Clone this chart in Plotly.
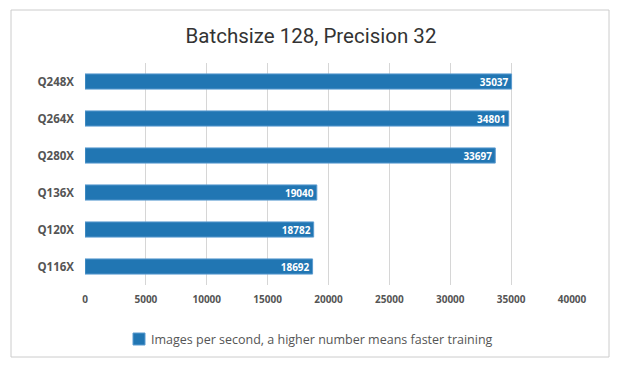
import plotly.graph_objects as go

categories = ["Q248X", "Q264X", "Q280X", "Q136X", "Q120X", "Q116X"]
values = [35037, 34801, 33697, 19040, 18782, 18692]
x_ticks = [0, 5000, 10000, 15000, 20000, 25000, 30000, 35000, 40000]
series_name = "Images per second, a higher number means faster training"
title = "Batchsize 128, Precision 32"

OFF = 8  # default page body margin
W, H = 620 - OFF, 369 - OFF
L, T = 85 - OFF, 63 - OFF
R = W - (572 - OFF)
B = H - (285 - OFF)
pw, ph = W - L - R, H - T - B

def px(x):
    return (x - OFF - L) / pw

def py(y):
    return 1 - (y - OFF - T) / ph

bar_color = "#2176b3"

fig = go.Figure()
fig.add_trace(go.Bar(
    x=values, y=categories, orientation="h", name=series_name,
    marker=dict(color=bar_color, line=dict(color="#5b9bd0", width=1)),
    text=[str(v) for v in values], textposition="inside", insidetextanchor="end",
    textfont=dict(family="Open Sans", size=10, color="white", weight="bold"),
    showlegend=False,
))

fig.update_layout(
    width=W, height=H,
    margin=dict(l=L, r=R, t=T, b=B),
    paper_bgcolor="white", plot_bgcolor="white",
    bargap=0.59,
    title=dict(text=title, x=(311 - OFF) / W, xref="container", xanchor="center",
               y=1 - (36 - OFF) / H, yanchor="middle",
               font=dict(family="Roboto", size=20.5, color="#333")),
    xaxis=dict(range=[0, 40000], tickvals=x_ticks, ticktext=[str(t) for t in x_ticks],
               showgrid=True, gridcolor="#d6d6d6", gridwidth=1, zeroline=False, showline=False,
               tickfont=dict(family="Open Sans", size=10, color="#555", weight="bold"),
               ticks="", ticklabelstandoff=7, fixedrange=True),
    yaxis=dict(categoryorder="array", categoryarray=categories, autorange="reversed",
               showgrid=False, zeroline=False, showline=False, ticks="",
               tickfont=dict(family="Open Sans", size=11.5, color="#555", weight="bold"),
               ticklabelstandoff=10),
    showlegend=False,
    shapes=[
        dict(type="rect", xref="paper", yref="paper",
             x0=px(11), x1=px(609), y0=py(357), y1=py(10),
             line=dict(color="#cccccc", width=1), fillcolor="rgba(0,0,0,0)", layer="below"),
        dict(type="rect", xref="paper", yref="paper",
             x0=px(133), x1=px(145), y0=py(345), y1=py(333),
             line=dict(color="#5b9bd0", width=1), fillcolor=bar_color),
    ],
    annotations=[dict(text=series_name, xref="paper", yref="paper", x=px(149), y=py(339),
                      xanchor="left", yanchor="middle", showarrow=False,
                      font=dict(family="Open Sans", size=12.5, color="#555"))],
    uniformtext=dict(minsize=8, mode="show"),
)

fig.write_html("out.html")
